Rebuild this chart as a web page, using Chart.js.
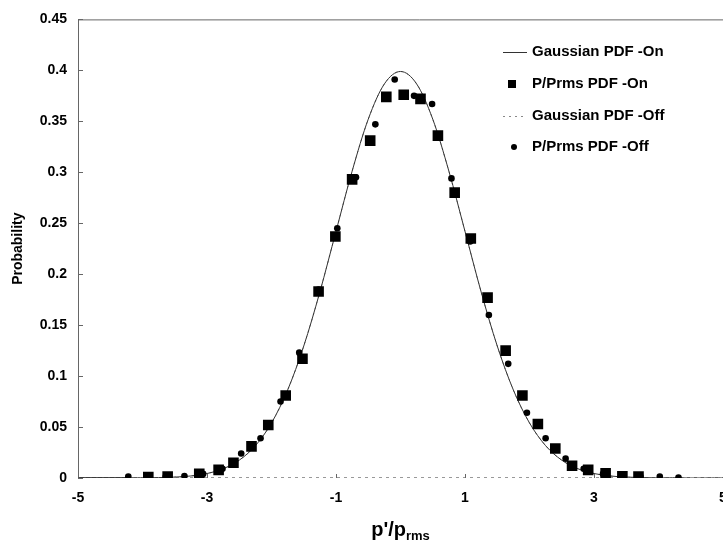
<!DOCTYPE html>
<html>
<head>
<meta charset="utf-8">
<script src="https://cdn.jsdelivr.net/npm/chart.js@4.4.1/dist/chart.umd.min.js"></script>
<style>
  html, body { margin: 0; padding: 0; background: #fff; overflow: hidden; }
  #wrap { width: 760px; height: 549px; }
</style>
</head>
<body>
<div id="wrap"><canvas id="c" width="760" height="549"></canvas></div>
<script>
// Normalised pressure fluctuation p'/p_rms
const gaussX = [-5, -4.75, -4.5, -4.25, -4, -3.75, -3.5, -3.25, -3, -2.75, -2.5, -2.25, -2, -1.75, -1.5, -1.25, -1, -0.75, -0.5, -0.25,
  0, 0.25, 0.5, 0.75, 1, 1.25, 1.5, 1.75, 2, 2.25, 2.5, 2.75, 3, 3.25, 3.5, 3.75, 4, 4.25, 4.5, 4.75, 5];
const gaussOn = [0, 0, 0, 0.0001, 0.0001, 0.0004, 0.0009, 0.0020, 0.0044, 0.0091, 0.0175, 0.0317, 0.0540, 0.0863, 0.1295, 0.1826, 0.2420, 0.3011, 0.3521, 0.3867,
  0.3989, 0.3867, 0.3521, 0.3011, 0.2420, 0.1826, 0.1295, 0.0863, 0.0540, 0.0317, 0.0175, 0.0091, 0.0044, 0.0020, 0.0009, 0.0004, 0.0001, 0.0001, 0, 0, 0];
const gaussOff = [0, 0, 0, 0.0001, 0.0001, 0.0004, 0.0009, 0.0020, 0.0044, 0.0091, 0.0175, 0.0317, 0.0540, 0.0863, 0.1295, 0.1826, 0.2420, 0.3011, 0.3521, 0.3867,
  0.3989, 0.3867, 0.3521, 0.3011, 0.2420, 0.1826, 0.1295, 0.0863, 0.0540, 0.0317, 0.0175, 0.0091, 0.0044, 0.0020, 0.0009, 0.0004, 0.0001, 0.0001, 0, 0, 0];

// Measured PDF, flow control on
const onX = [-3.91, -3.61, -3.12, -2.82, -2.59, -2.31, -2.05, -1.78, -1.52, -1.27, -1.01, -0.75, -0.47, -0.22,
  0.05, 0.31, 0.58, 0.84, 1.09, 1.35, 1.63, 1.89, 2.13, 2.40, 2.66, 2.91, 3.18, 3.44, 3.69];
const onY = [0.001, 0.0015, 0.004, 0.008, 0.015, 0.031, 0.052, 0.081, 0.117, 0.183, 0.237, 0.293, 0.331, 0.374,
  0.376, 0.372, 0.336, 0.280, 0.235, 0.177, 0.125, 0.081, 0.053, 0.029, 0.012, 0.008, 0.0045, 0.0017, 0.0014];

// Measured PDF, flow control off
const offX = [-4.22, -3.93, -3.64, -3.35, -3.06, -2.76, -2.47, -2.17, -1.86, -1.57, -1.27, -0.98, -0.69, -0.39, -0.09,
  0.21, 0.49, 0.79, 1.08, 1.37, 1.67, 1.96, 2.25, 2.56, 2.84, 3.14, 3.43, 3.72, 4.02, 4.31];
const offY = [0.0015, 0.001, 0.0015, 0.002, 0.004, 0.009, 0.024, 0.039, 0.075, 0.123, 0.185, 0.245, 0.295, 0.347, 0.391,
  0.375, 0.367, 0.294, 0.232, 0.160, 0.112, 0.064, 0.039, 0.019, 0.009, 0.004, 0.002, 0.0015, 0.0015, 0.0005];

const xTickValues = [-5, -3, -1, 1, 3, 5];
const yTickValues = [0, 0.05, 0.1, 0.15, 0.2, 0.25, 0.3, 0.35, 0.4, 0.45];
const yTickLabels = ['0', '0.05', '0.1', '0.15', '0.2', '0.25', '0.3', '0.35', '0.4', '0.45'];

const seriesNames = ['Gaussian PDF -On', 'P/Prms PDF -On', 'Gaussian PDF -Off', 'P/Prms PDF -Off'];

const FONT = "'Liberation Sans', Arial, Helvetica, sans-serif";
const pts = (xs, ys) => xs.map((x, i) => ({ x: x, y: ys[i] }));

// Frame, inward tick marks, axis titles and the legend
const decorations = {
  id: 'decorations',
  beforeDatasetsDraw(chart) {
    const { ctx, chartArea: a, scales: { x, y } } = chart;
    ctx.save();
    // top frame line
    ctx.strokeStyle = '#666';
    ctx.lineWidth = 1;
    ctx.beginPath();
    ctx.moveTo(a.left, a.top + 0.5);
    ctx.lineTo(a.right + 40, a.top + 0.5);
    ctx.stroke();
    // broken baseline, solid at the far left
    ctx.strokeStyle = '#999';
    ctx.setLineDash([3, 4]);
    ctx.beginPath();
    ctx.moveTo(a.left, a.bottom - 0.5);
    ctx.lineTo(a.right + 40, a.bottom - 0.5);
    ctx.stroke();
    ctx.setLineDash([]);
    ctx.strokeStyle = '#444';
    ctx.beginPath();
    ctx.moveTo(a.left, a.bottom - 0.5);
    ctx.lineTo(x.getPixelForValue(offX[0]), a.bottom - 0.5);
    ctx.stroke();
    // inward tick marks
    ctx.strokeStyle = '#666';
    yTickValues.forEach(v => {
      const py = Math.round(y.getPixelForValue(v)) + 0.5;
      ctx.beginPath();
      ctx.moveTo(a.left, py);
      ctx.lineTo(a.left + 5, py);
      ctx.stroke();
    });
    xTickValues.forEach(v => {
      const px = Math.round(x.getPixelForValue(v)) + 0.5;
      ctx.beginPath();
      ctx.moveTo(px, a.bottom);
      ctx.lineTo(px, a.bottom - 4);
      ctx.stroke();
    });
    ctx.restore();
  },
  afterDraw(chart) {
    const { ctx, chartArea: a } = chart;
    ctx.save();
    ctx.fillStyle = '#000';
    // y title
    ctx.font = 'bold 14px ' + FONT;
    ctx.textAlign = 'center';
    ctx.textBaseline = 'middle';
    ctx.translate(18, (a.top + a.bottom) / 2);
    ctx.rotate(-Math.PI / 2);
    ctx.fillText('Probability', 0, 0);
    ctx.setTransform(1, 0, 0, 1, 0, 0);
    // x title p'/p with subscript rms
    ctx.textAlign = 'left';
    ctx.textBaseline = 'alphabetic';
    const main = "p'/p", sub = 'rms';
    ctx.font = 'bold 20px ' + FONT;
    const w1 = ctx.measureText(main).width;
    ctx.font = 'bold 13px ' + FONT;
    const w2 = ctx.measureText(sub).width;
    const cx = (a.left + a.right) / 2;
    const x0 = cx - (w1 + w2) / 2;
    ctx.font = 'bold 20px ' + FONT;
    ctx.fillText(main, x0, 536);
    ctx.font = 'bold 13px ' + FONT;
    ctx.fillText(sub, x0 + w1, 540);
    // legend
    const lx = 503, tx = 532, rows = [52, 84, 116, 147];
    ctx.font = 'bold 15px ' + FONT;
    ctx.textBaseline = 'middle';
    rows.forEach((ry, i) => ctx.fillText(seriesNames[i], tx, ry));
    ctx.strokeStyle = '#333';
    ctx.lineWidth = 1;
    ctx.beginPath();
    ctx.moveTo(lx, rows[0] + 0.5);
    ctx.lineTo(lx + 24, rows[0] + 0.5);
    ctx.stroke();
    ctx.fillRect(508, rows[1] - 4, 8, 8);
    ctx.strokeStyle = '#888';
    ctx.setLineDash([2, 4]);
    ctx.beginPath();
    ctx.moveTo(lx, rows[2] + 0.5);
    ctx.lineTo(lx + 24, rows[2] + 0.5);
    ctx.stroke();
    ctx.setLineDash([]);
    ctx.beginPath();
    ctx.arc(514, rows[3], 3, 0, Math.PI * 2);
    ctx.fill();
    ctx.restore();
  }
};

new Chart(document.getElementById('c'), {
  type: 'scatter',
  data: {
    datasets: [
      {
        label: seriesNames[1], data: pts(onX, onY), showLine: false, order: 0,
        pointStyle: 'rect', pointRadius: 7.5, pointBackgroundColor: '#000', pointBorderWidth: 0
      },
      {
        label: seriesNames[3], data: pts(offX, offY), showLine: false, order: 0,
        pointStyle: 'circle', pointRadius: 3.3, pointBackgroundColor: '#000', pointBorderWidth: 0
      },
      {
        label: seriesNames[0], data: pts(gaussX, gaussOn), showLine: true, order: 1,
        borderColor: '#333', borderWidth: 1, pointRadius: 0, cubicInterpolationMode: 'monotone'
      },
      {
        label: seriesNames[2], data: pts(gaussX, gaussOff), showLine: true, order: 1,
        borderColor: '#888', borderWidth: 1, borderDash: [2, 4], pointRadius: 0, cubicInterpolationMode: 'monotone'
      }
    ]
  },
  options: {
    responsive: false,
    animation: false,
    layout: { padding: { top: 13, right: 37, left: 0, bottom: 0 } },
    plugins: { legend: { display: false }, tooltip: { enabled: false } },
    scales: {
      x: {
        type: 'linear', min: -5, max: 5,
        afterBuildTicks: s => { s.ticks = xTickValues.map(v => ({ value: v })); },
        afterFit: s => { s.height = 71; },
        grid: { display: false, drawTicks: false },
        border: { display: false },
        ticks: { padding: 12, color: '#000', font: { family: FONT, size: 14, weight: 'bold' }, maxRotation: 0, autoSkip: false }
      },
      y: {
        type: 'linear', min: 0, max: 0.45,
        afterBuildTicks: s => { s.ticks = yTickValues.map(v => ({ value: v })); },
        afterFit: s => { s.width = 78; },
        grid: { display: false, drawTicks: false },
        border: { display: true, color: '#666', width: 1 },
        ticks: {
          padding: 11, color: '#000', font: { family: FONT, size: 14, weight: 'bold' },
          callback: (v) => { const i = yTickValues.findIndex(t => Math.abs(t - v) < 1e-9); return i >= 0 ? yTickLabels[i] : ''; }
        }
      }
    }
  },
  plugins: [decorations]
});
</script>
</body>
</html>
